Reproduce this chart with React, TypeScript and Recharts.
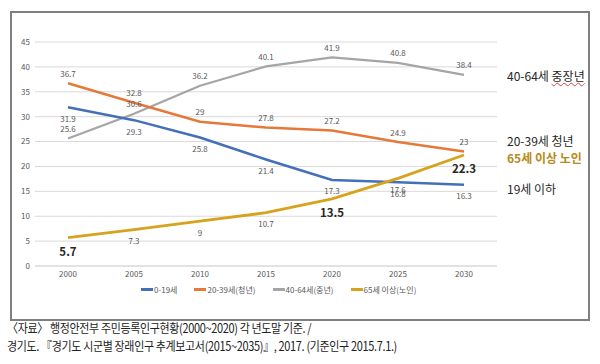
import React from 'react';
import { LineChart, Line, XAxis, YAxis, CartesianGrid, LabelList } from 'recharts';

const years = ['2000', '2005', '2010', '2015', '2020', '2025', '2030'];
const youth = [31.9, 29.3, 25.8, 21.4, 17.3, 16.8, 16.3];
const young = [36.7, 32.8, 29, 27.8, 27.2, 24.9, 23];
const middle = [25.6, 30.6, 36.2, 40.1, 41.9, 40.8, 38.4];
const elderly = [5.7, 7.3, 9, 10.7, 13.5, 17.6, 22.3];
const elderlyHighlight = ['2000', '2020', '2030'];
const yTicks = [0, 5, 10, 15, 20, 25, 30, 35, 40, 45];

const seriesNames = ['0-19세', '20-39세(청년)', '40-64세(중년)', '65세 이상(노인)'];
const sideLabels = ['40-64세 중장년', '20-39세 청년', '65세 이상 노인', '19세 이하'];
const captionLines = [
  '〈자료〉 행정안전부 주민등록인구현황(2000~2020) 각 년도말 기준. /',
  '경기도. 『경기도 시군별 장래인구 추계보고서(2015~2035)』, 2017. (기준인구 2015.7.1.)',
];

const COLORS = ['#4470B8', '#E5793A', '#A5A5A5', '#D6A31E'];
const FONT = '"Noto Sans CJK KR", "Noto Sans", sans-serif';

const data = years.map((y, i) => ({
  year: y,
  youth: youth[i],
  young: young[i],
  middle: middle[i],
  elderly: elderly[i],
}));

const makeLabel = (dy: number, highlight?: string[]) => (props: any) => {
  const { x, y, value, index } = props;
  const bold = highlight ? highlight.includes(years[index]) : false;
  return (
    <text
      x={x}
      y={y + (bold ? dy * 1.2 : dy)}
      textAnchor="middle"
      dominantBaseline="central"
      fontFamily={FONT}
      fontSize={bold ? 11.5 : 8}
      fontWeight={bold ? 700 : 400}
      fill={bold ? '#262626' : '#595959'}
    >
      {value}
    </text>
  );
};

export default function App() {
  return (
    <div style={{ position: 'absolute', left: 0, top: 0, width: 600, height: 364, background: '#fff', fontFamily: FONT }}>
      <div
        style={{
          position: 'absolute',
          left: 10,
          top: 11,
          width: 576,
          height: 306,
          border: '2px solid #7f7f7f',
        }}
      />
      <div style={{ position: 'absolute', left: 0, top: 0 }}>
        <LineChart width={600} height={300} data={data} margin={{ top: 42, right: 103, bottom: 4, left: 0 }}>
          <CartesianGrid vertical={false} stroke="#d9d9d9" />
          <XAxis
            dataKey="year"
            padding={{ left: 33, right: 33 }}
            axisLine={{ stroke: '#d9d9d9' }}
            tickLine={false}
            tickSize={0}
            tickMargin={5}
            height={30}
            tick={{ fontSize: 8, fill: '#595959', fontFamily: FONT }}
          />
          <YAxis
            domain={[0, 45]}
            ticks={yTicks}
            width={35}
            axisLine={false}
            tickLine={false}
            tickSize={0}
            tickMargin={5}
            tick={{ fontSize: 8, fill: '#595959', fontFamily: FONT }}
          />
          <Line dataKey="middle" stroke={COLORS[2]} strokeWidth={2.2} dot={false} isAnimationActive={false}>
            <LabelList dataKey="middle" content={makeLabel(-10)} />
          </Line>
          <Line dataKey="young" stroke={COLORS[1]} strokeWidth={2.5} dot={false} isAnimationActive={false}>
            <LabelList dataKey="young" content={makeLabel(-10)} />
          </Line>
          <Line dataKey="youth" stroke={COLORS[0]} strokeWidth={2.5} dot={false} isAnimationActive={false}>
            <LabelList dataKey="youth" content={makeLabel(11)} />
          </Line>
          <Line dataKey="elderly" stroke={COLORS[3]} strokeWidth={2.8} dot={false} isAnimationActive={false}>
            <LabelList dataKey="elderly" content={makeLabel(11, elderlyHighlight)} />
          </Line>
        </LineChart>
      </div>
      <div
        style={{
          position: 'absolute',
          left: 141,
          top: 284,
          display: 'flex',
          alignItems: 'center',
          fontSize: 8,
          color: '#595959',
          whiteSpace: 'nowrap',
        }}
      >
        {seriesNames.map((n, i) => (
          <div key={n} style={{ display: 'flex', alignItems: 'center', marginRight: 17 }}>
            <span style={{ display: 'inline-block', width: 12, height: 2.5, background: COLORS[i] }} />
            <span style={{ marginLeft: 1 }}>{n}</span>
          </div>
        ))}
      </div>
      {sideLabels.map((t, i) => {
        const tops = [69, 134, 151, 182];
        const isGold = i === 2;
        const isMid = i === 0;
        return (
          <div
            key={t}
            style={{
              position: 'absolute',
              left: 507,
              top: tops[i],
              fontSize: 12,
              lineHeight: '14px',
              whiteSpace: 'nowrap',
              fontWeight: isGold ? 700 : 400,
              color: isGold ? '#B8891A' : '#262626',
            }}
          >
            {isMid ? (
              <>
                40-64세{' '}
                <span style={{ textDecoration: 'underline wavy #e04040', textDecorationThickness: 1 }}>중장년</span>
              </>
            ) : (
              t
            )}
          </div>
        );
      })}
      {captionLines.map((c, i) => (
        <div
          key={i}
          style={{
            position: 'absolute',
            left: 7,
            top: 319 + i * 18,
            fontSize: 12.5,
            lineHeight: '17px',
            whiteSpace: 'nowrap',
            color: '#222',
            letterSpacing: -0.4,
            transform: 'scaleX(0.88)',
            transformOrigin: 'left center',
          }}
        >
          {c}
        </div>
      ))}
    </div>
  );
}
